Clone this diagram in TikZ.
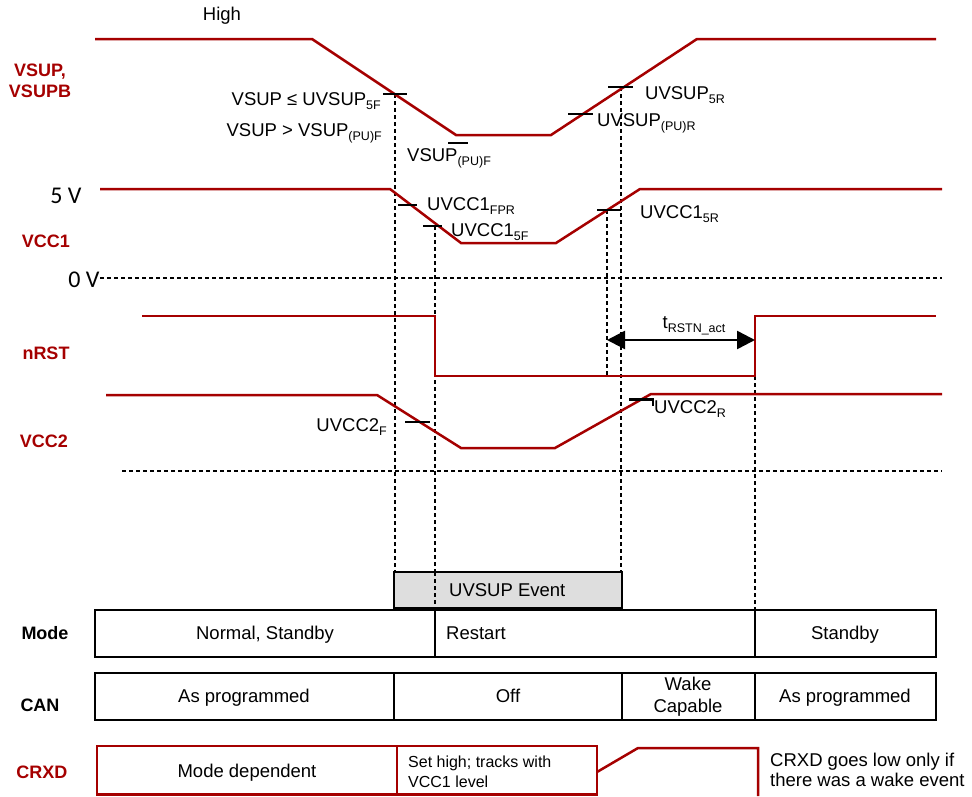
\documentclass[tikz,border=0pt]{standalone}
\usepackage{fontspec}
\setmainfont{Liberation Sans}
\newfontfamily\calfont{Carlito}
\usetikzlibrary{arrows.meta}
\definecolor{sigred}{RGB}{165,0,0}
\definecolor{evgray}{RGB}{222,222,222}
\newcommand\lsub[1]{\raisebox{-0.45ex}{\fontsize{12.5}{12.5}\selectfont #1}}
\begin{document}
\begin{tikzpicture}[x=1pt,y=-1pt,
  sig/.style={draw=sigred, line width=2.5pt, line join=miter},
  tickmark/.style={draw=black, line width=2.5pt},
  guide/.style={draw=black, line width=2.2pt, dash pattern=on 4pt off 3pt},
  lbl/.style={font=\fontsize{18.5}{21}\selectfont, inner sep=0pt},
  small/.style={font=\fontsize{16}{20}\selectfont, inner sep=0pt, align=left},
  siglbl/.style={font=\fontsize{18}{21}\selectfont\bfseries, text=sigred, inner sep=0pt, align=center},
  rowlbl/.style={font=\fontsize{18}{21}\selectfont\bfseries, inner sep=0pt},
  volt/.style={font=\fontsize{24}{26}\selectfont\calfont, inner sep=0pt},
  cell/.style={draw=black, line width=2pt},
  dbl/.style={draw=black, line width=2.5pt, {Triangle[length=18pt,width=18pt]}-{Triangle[length=18pt,width=18pt]}}
]
\useasboundingbox (0,0) rectangle (972,796);

% ---------- guide lines (behind) ----------
\coordinate (zA) at (100,278);  \coordinate (zB) at (942,278);
\coordinate (gA) at (122,471);  \coordinate (gB) at (942,471);
\draw[guide] (zA) -- (zB);
\draw[guide] (gA) -- (gB);
\coordinate (d1t) at (395,94);  \coordinate (d1b) at (395,572);
\coordinate (d2t) at (435,226); \coordinate (d2b) at (435,610);
\coordinate (d3t) at (607,210); \coordinate (d3b) at (607,376);
\coordinate (d4t) at (621,87);  \coordinate (d4b) at (621,572);
\coordinate (d5t) at (755,376); \coordinate (d5b) at (755,610);
\draw[guide] (d1t) -- (d1b);
\draw[guide] (d2t) -- (d2b);
\draw[guide] (d3t) -- (d3b);
\draw[guide] (d4t) -- (d4b);
\draw[guide] (d5t) -- (d5b);

% ---------- VSUP ----------
\coordinate (v0) at (95,39);  \coordinate (v1) at (312,39); \coordinate (v2) at (456,135);
\coordinate (v3) at (551,135); \coordinate (v4) at (697,39); \coordinate (v5) at (936,39);
\draw[sig] (v0) -- (v1) -- (v2) -- (v3) -- (v4) -- (v5);
\draw[tickmark] (383,94) -- (407,94);
\draw[tickmark] (448,143) -- (468,143);
\draw[tickmark] (608,87) -- (633,87);
\draw[tickmark] (568,114) -- (593,114);

% ---------- VCC1 ----------
\coordinate (c0) at (100,189); \coordinate (c1) at (390,189); \coordinate (c2) at (461,243);
\coordinate (c3) at (556,243); \coordinate (c4) at (640,189); \coordinate (c5) at (942,189);
\draw[sig] (c0) -- (c1) -- (c2) -- (c3) -- (c4) -- (c5);
\draw[tickmark] (398,205) -- (417,205);
\draw[tickmark] (423,226) -- (442,226);
\draw[tickmark] (597,210) -- (621,210);

% ---------- nRST ----------
\coordinate (r0) at (142,316); \coordinate (r1) at (435,316); \coordinate (r2) at (435,376);
\coordinate (r3) at (755,376); \coordinate (r4) at (755,316); \coordinate (r5) at (936,316);
\draw[sig] (r0) -- (r1) -- (r2) -- (r3) -- (r4) -- (r5);
\coordinate (aL) at (607,340); \coordinate (aR) at (755,340);
\draw[dbl] (aL) -- (aR);

% ---------- VCC2 ----------
\coordinate (w0) at (106,395); \coordinate (w1) at (377,395); \coordinate (w2) at (461,448);
\coordinate (w3) at (555,448); \coordinate (w4) at (651,394); \coordinate (w5) at (942,394);
\draw[sig] (w0) -- (w1) -- (w2) -- (w3) -- (w4) -- (w5);
\draw[tickmark] (405,422) -- (430,422);
\draw[tickmark] (629,399.5) -- (653,399.5) -- (653,406);

% ---------- signal labels ----------
\node[lbl, anchor=base] (high) at (222,20.5) {High};
\node[siglbl] (lvsup) at (40,80.5) {VSUP,\\VSUPB};
\node[volt] (l5v) at (66,196) {5 V};
\node[siglbl] (lvcc1) at (46,241) {VCC1};
\node[volt] (l0v) at (84,280) {0 V};
\node[siglbl] (lnrst) at (46,353) {nRST};
\node[siglbl] (lvcc2) at (44,441) {VCC2};
\node[rowlbl] (lmode) at (45,633) {Mode};
\node[rowlbl] (lcan) at (40,705) {CAN};
\node[siglbl] (lcrxd) at (42,772) {CRXD};

% ---------- threshold labels ----------
\node[lbl, anchor=base east] (t1) at (381,105) {VSUP ≤ UVSUP\lsub{5F}};
\node[lbl, anchor=base east] (t2) at (382,136) {VSUP > VSUP\lsub{(PU)F}};
\node[lbl, anchor=base west] (t3) at (407,161) {VSUP\lsub{(PU)F}};
\node[lbl, anchor=base west] (t4) at (645,99.5) {UVSUP\lsub{5R}};
\node[lbl, anchor=base west] (t5) at (597,126) {UVSUP\lsub{(PU)R}};
\node[lbl, anchor=base west] (t6) at (427,210.5) {UVCC1\lsub{FPR}};
\node[lbl, anchor=base west] (t7) at (451,236) {UVCC1\lsub{5F}};
\node[lbl, anchor=base west] (t8) at (640,218) {UVCC1\lsub{5R}};
\node[lbl, anchor=base] (t9) at (694,328) {t\lsub{RSTN\_act}};
\node[lbl, anchor=base east] (t10) at (387,431) {UVCC2\lsub{F}};
\node[lbl, anchor=base west] (t11) at (654,413) {UVCC2\lsub{R}};

% ---------- UVSUP event ----------
\draw[draw=black, line width=1.5pt, fill=evgray] (394,572) rectangle (622,608);
\draw[guide] (435,572) -- (435,608);
\node[lbl, anchor=base west] (ev) at (449,596.5) {UVSUP Event};

% ---------- Mode row ----------
\draw[cell] (95,610) rectangle (936,657);
\draw[cell] (435,610) -- (435,657);
\draw[cell] (755,610) -- (755,657);
\node[lbl, anchor=base] (m1) at (265,639.5) {Normal, Standby};
\node[lbl, anchor=base west] (m2) at (446,639.5) {Restart};
\node[lbl, anchor=base] (m3) at (845,639.5) {Standby};

% ---------- CAN row ----------
\draw[cell] (95,673) rectangle (936,720);
\draw[cell] (394,673) -- (394,720);
\draw[cell] (622,673) -- (622,720);
\draw[cell] (755,673) -- (755,720);
\node[lbl, anchor=base] (n1) at (244,702.5) {As programmed};
\node[lbl, anchor=base] (n2) at (508,702.5) {Off};
\node[lbl, align=center, font=\fontsize{18.5}{22}\selectfont] (n3) at (688,697) {Wake\\Capable};
\node[lbl, anchor=base] (n4) at (845,702.5) {As programmed};

% ---------- CRXD row ----------
\draw[sig] (97,794.5) -- (97,746) -- (597,746) -- (597,794.5) -- cycle;
\draw[sig] (397,746) -- (397,794.5);
\draw[sig] (597,772) -- (638,748) -- (758,748) -- (758,796);
\node[lbl, anchor=base] (x1) at (247,777.5) {Mode dependent};
\node[small, anchor=west] (x2) at (408,771.5) {Set high; tracks with\\VCC1 level};
\node[lbl, align=left, font=\fontsize{18.5}{20}\selectfont, anchor=west] (x3) at (770,770) {CRXD goes low only if\\there was a wake event};
\end{tikzpicture}
\end{document}
